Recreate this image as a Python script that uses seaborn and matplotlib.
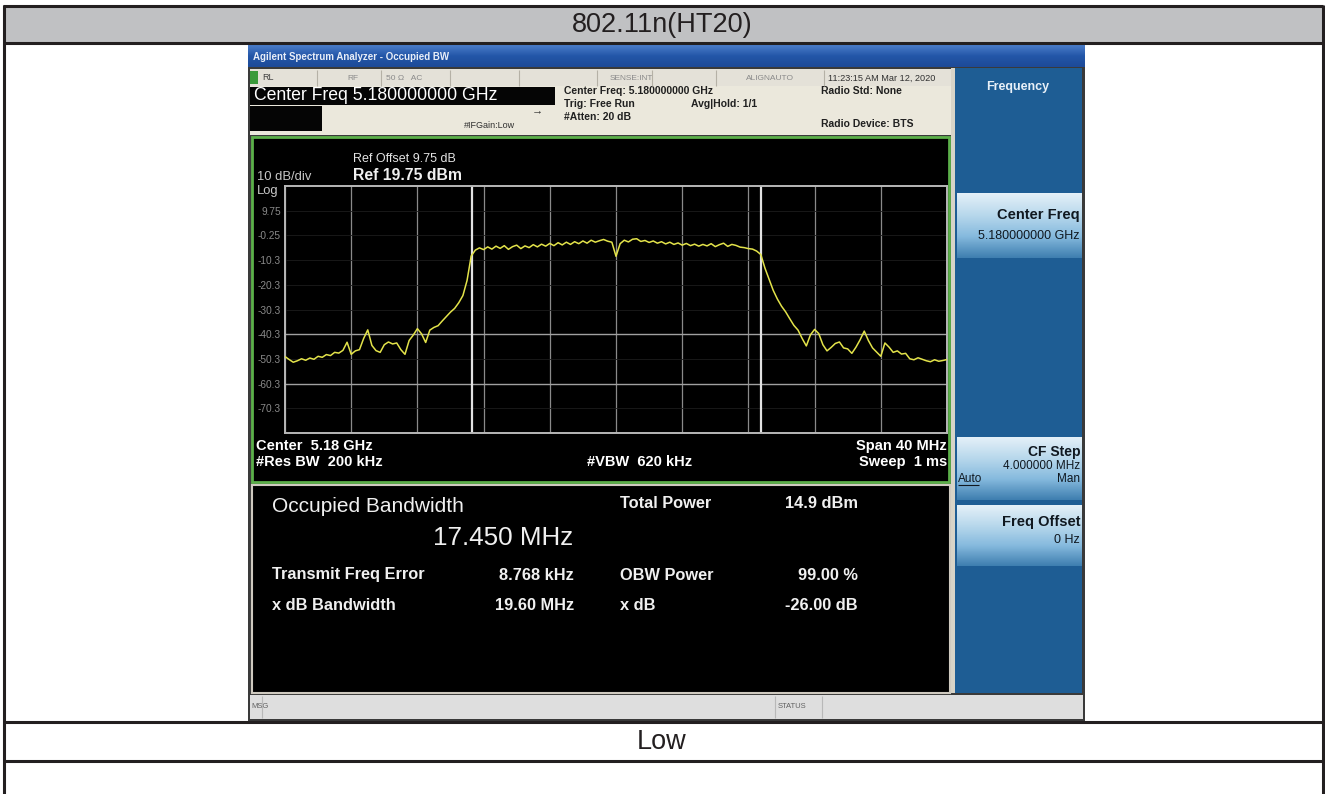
import numpy as np
import pandas as pd
import matplotlib
matplotlib.use('Agg')
import matplotlib.pyplot as plt
from matplotlib.patches import Rectangle
from matplotlib.colors import LinearSegmentedColormap
import seaborn as sns

W, H = 1325, 794

# analyser sweep, 0.25 MHz steps over the 40 MHz span (offset from 5.18 GHz)
FREQ_START, FREQ_STOP, FREQ_STEP = -20.0, 20.0, 0.25
LEVEL_DBM = [
    # -20 .. -16.5
    -49.3, -50.5, -51.6, -51.0, -50.2, -50.8, -49.9, -50.4, -49.2, -49.6,
    -48.5, -48.9, -47.6, -47.9, -46.8,
    # -16.25 .. -8.75
    -43.5, -48.4, -47.0, -46.5, -42.0, -38.5, -44.8, -46.9, -47.6, -44.5,
    -43.4, -44.2, -43.8, -46.5, -48.4, -42.8, -40.6, -38.0, -40.1, -43.6,
    -38.6, -37.5, -36.8, -34.9, -33.1, -31.3, -29.8, -27.5, -24.6, -18.5,
    -8.6,
    # -8.5 .. 8.5 (in band)
    -6.2, -5.3, -6.0, -4.9, -5.8, -4.6, -5.5, -4.4, -5.9, -4.8,
    -4.2, -5.6, -4.5, -5.2, -4.0, -4.9, -3.8, -4.6, -3.5, -4.4,
    -3.2, -4.1, -3.0, -3.9, -2.8, -3.6, -2.5, -3.4, -2.2, -3.0,
    -2.4, -1.9, -2.6, -3.0, -8.7, -3.6, -2.2, -2.9, -1.8, -1.6,
    -2.7, -2.3, -3.1, -2.5, -3.4, -2.8, -3.7, -3.0, -3.9, -3.3,
    -4.2, -3.5, -4.4, -3.8, -4.6, -3.9, -4.5, -3.6, -4.8, -4.0,
    -3.4, -4.7, -3.9, -4.3, -5.0, -5.2, -5.6, -5.8, -6.6,
    # 8.75 .. 20
    -8.0, -13.5, -18.0, -22.5, -26.0, -28.9, -31.2, -34.0, -36.7, -38.6,
    -42.0, -45.0, -40.5, -38.3, -40.0, -44.5, -47.0, -45.6, -44.0, -43.4,
    -45.8, -46.2, -48.0, -45.5, -42.5, -39.0, -42.8, -45.8, -47.5, -49.2,
    -43.8, -45.5, -47.6, -47.0, -48.3, -48.0, -50.2, -50.6, -49.8, -50.4,
    -51.0, -51.4, -50.6, -51.2, -50.9, -50.5,
]

REF_LEVEL = 19.75
DB_PER_DIV = 10
OBW_MHZ = 17.450
FREQ_ERR_KHZ = 8.768
Y_TICK_LABELS = ['9.75', '-0.25', '-10.3', '-20.3', '-30.3', '-40.3', '-50.3', '-60.3', '-70.3']

RESULT_LABELS = ['Transmit Freq Error', 'x dB Bandwidth']
RESULT_VALUES = ['8.768 kHz', '19.60 MHz']
RESULT_LABELS_R = ['Total Power', 'OBW Power', 'x dB']
RESULT_VALUES_R = ['14.9 dBm', '99.00 %', '-26.00 dB']

plt.rcParams['font.family'] = ['Liberation Sans', 'DejaVu Sans']

fig = plt.figure(figsize=(W / 100, H / 100), dpi=100)
bg = fig.add_axes([0, 0, 1, 1])
bg.set_xlim(0, W)
bg.set_ylim(H, 0)
bg.axis('off')


def box(x0, y0, x1, y1, color, ec='none', lw=0, z=1):
    bg.add_patch(Rectangle((x0, y0), x1 - x0, y1 - y0, facecolor=color,
                           edgecolor=ec, linewidth=lw, zorder=z))


def grad(x0, y0, x1, y1, colors, z=1):
    cmap = LinearSegmentedColormap.from_list('g', colors)
    bg.imshow(np.linspace(0, 1, 64).reshape(-1, 1), cmap=cmap, extent=(x0, x1, y1, y0),
              aspect='auto', origin='upper', interpolation='bilinear', zorder=z)


def txt(x, y, s, size, color='white', ha='left', weight='normal', z=5):
    bg.text(x, y, s, fontsize=size, color=color, ha=ha, va='center', fontweight=weight, zorder=z)


def hline(x0, x1, y, color='#231f20', lw=2.2, z=6):
    bg.plot([x0, x1], [y, y], color=color, lw=lw, zorder=z, solid_capstyle='butt')


def vline(x, y0, y1, color='#231f20', lw=2.2, z=6):
    bg.plot([x, x], [y0, y1], color=color, lw=lw, zorder=z, solid_capstyle='butt')


# ---- outer table ----
box(4, 7, 1322, 42, '#c0c1c3')
txt(662, 25, '802.11n(HT20)', 19.5, color='#231f20', ha='center')
txt(662, 742, 'Low', 19.5, color='#231f20', ha='center')
for yy in [6, 43, 722, 761]:
    hline(3, 1323, yy)
vline(3.5, 5, H)
vline(1322.5, 5, H)

# ---- analyser screenshot ----
box(248, 45, 1085, 721, '#3a3a3a')
grad(248, 45, 1085, 67, ['#4a7cc8', '#2356a8', '#1d4a98'])
txt(253, 57, 'Agilent Spectrum Analyzer - Occupied BW', 7, color='#e8eef8', weight='bold')

# status row
box(250, 69, 952, 86, '#e4e1d8')
box(250, 71, 258, 84, '#3a9a3a', z=2)
for xs in [317, 381, 450, 519, 597, 652, 716, 824]:
    vline(xs, 70, 86, color='#b5b1a6', lw=0.8)
txt(262, 78, 'RL', 6.5, color='#404040')
txt(347, 78, 'RF', 6, color='#8a8a8a')
txt(386, 78, '50 Ω   AC', 6, color='#8a8a8a')
txt(610, 78, 'SENSE:INT', 6, color='#8a8a8a')
txt(746, 78, 'ALIGNAUTO', 6, color='#8a8a8a')
txt(828, 78, '11:23:15 AM Mar 12, 2020', 6.6, color='#303030')

# info area
box(250, 86, 952, 135, '#ebe8dc')
box(250, 87, 555, 105, '#050505', z=2)
box(250, 106, 322, 131, '#050505', z=2)
txt(254, 96, 'Center Freq 5.180000000 GHz', 12.7, color='white')
txt(464, 125, '#IFGain:Low', 6.5, color='#303030')
txt(532, 110, '→', 8, color='#303030')
txt(564, 91, 'Center Freq: 5.180000000 GHz', 7.5, color='#202020', weight='bold')
txt(564, 104, 'Trig: Free Run', 7.5, color='#202020', weight='bold')
txt(691, 104, 'Avg|Hold: 1/1', 7.5, color='#202020', weight='bold')
txt(564, 117, '#Atten: 20 dB', 7.5, color='#202020', weight='bold')
txt(821, 91, 'Radio Std: None', 7.5, color='#202020', weight='bold')
txt(821, 124, 'Radio Device: BTS', 7.5, color='#202020', weight='bold')

# graph frame
box(252, 137, 949, 482, '#000000', ec='#5cb04a', lw=2, z=2)
txt(353, 159, 'Ref Offset 9.75 dB', 9, color='#e4e4e4')
txt(353, 175, 'Ref 19.75 dBm', 11.3, color='#f0f0f0', weight='bold')
txt(257, 177, '10 dB/div', 9.4, color='#c8c8c8')
txt(257, 191, 'Log', 9.4, color='#c8c8c8')
txt(256, 446, 'Center  5.18 GHz', 10.5, color='white', weight='bold')
txt(256, 462, '#Res BW  200 kHz', 10.5, color='white', weight='bold')
txt(587, 462, '#VBW  620 kHz', 10.5, color='white', weight='bold')
txt(947, 446, 'Span 40 MHz', 10.5, color='white', weight='bold', ha='right')
txt(947, 462, 'Sweep  1 ms', 10.5, color='white', weight='bold', ha='right')

# results area
box(252, 485, 950, 693, '#000000', ec='#cfcac0', lw=1.5, z=2)
txt(272, 506, 'Occupied Bandwidth', 15, color='#f0f0f0')
txt(433, 538, '17.450 MHz', 18.7, color='#f0f0f0')
txt(620, 503, RESULT_LABELS_R[0], 11.8, color='#f0f0f0', weight='bold')
txt(858, 503, RESULT_VALUES_R[0], 11.8, color='#f0f0f0', weight='bold', ha='right')
for yy, lab, val, lab_r, val_r in zip([575, 605], RESULT_LABELS, RESULT_VALUES,
                                       RESULT_LABELS_R[1:], RESULT_VALUES_R[1:]):
    txt(272, yy, lab, 11.8, color='#f0f0f0', weight='bold')
    txt(574, yy, val, 11.8, color='#f0f0f0', weight='bold', ha='right')
    txt(620, yy, lab_r, 11.8, color='#f0f0f0', weight='bold')
    txt(858, yy, val_r, 11.8, color='#f0f0f0', weight='bold', ha='right')

# softkey panel
box(951, 68, 955, 693, '#d8d4c8')
box(955, 68, 1082, 693, '#1e5d94')
txt(1018, 87, 'Frequency', 9, color='#e8f0f8', weight='bold', ha='center')
btn_colors = ['#e4f0f8', '#b8d8ec', '#86bade', '#3f7fb0']
for y0, y1 in [(193, 258), (437, 500), (505, 566)]:
    grad(957, y0, 1082, y1, btn_colors, z=2)
txt(1080, 215, 'Center Freq', 10.5, color='#101820', weight='bold', ha='right')
txt(1080, 236, '5.180000000 GHz', 9, color='#101820', ha='right')
txt(1080, 452, 'CF Step', 10, color='#101820', weight='bold', ha='right')
txt(1080, 466, '4.000000 MHz', 8.5, color='#101820', ha='right')
txt(958, 479, 'Auto', 8.5, color='#101820')
hline(958, 979, 485, color='#101820', lw=0.8)
txt(1080, 479, 'Man', 8.5, color='#101820', ha='right')
txt(1080, 522, 'Freq Offset', 10.5, color='#101820', weight='bold', ha='right')
txt(1080, 540, '0 Hz', 9, color='#101820', ha='right')

# message bar
box(250, 695, 1083, 719, '#dedede')
for xs in [262, 775, 822]:
    vline(xs, 696, 718, color='#b8b8b8', lw=0.8)
txt(251, 707, 'MSG', 5.5, color='#606060')
txt(778, 707, 'STATUS', 5.5, color='#606060')

bg.set_xlim(0, W)
bg.set_ylim(H, 0)

# ---- spectrum trace ----
freq = np.arange(FREQ_START, FREQ_STOP + FREQ_STEP / 2, FREQ_STEP)
df = pd.DataFrame({'freq': freq, 'level': LEVEL_DBM})

ax = fig.add_axes([285 / W, 1 - 433 / H, 662 / W, 247 / H])
ax.set_facecolor('black')
bottom = REF_LEVEL - 10 * DB_PER_DIV
div_levels = [REF_LEVEL - DB_PER_DIV * k for k in range(1, 10)]
for k, lv in enumerate(div_levels, start=1):
    bright = k in (6, 8)
    ax.axhline(lv, color='#a0a0a0' if bright else '#1c1c1c', lw=1.0 if bright else 0.6, zorder=1)
ax.set_xticks(np.arange(FREQ_START, FREQ_STOP + 1, 4))
ax.grid(axis='x', color='#8a8a8a', lw=0.9)
ax.set_axisbelow(True)

center = FREQ_ERR_KHZ / 1000
for edge in (center - OBW_MHZ / 2, center + OBW_MHZ / 2):
    ax.axvline(edge, color='#e2e2e2', lw=1.6, zorder=2)

sns.lineplot(data=df, x='freq', y='level', color='#e3e34a', lw=1.1, ax=ax, zorder=3)

ax.set_xlim(FREQ_START, FREQ_STOP)
ax.set_ylim(bottom, REF_LEVEL)
ax.set_yticks(div_levels)
ax.set_yticklabels(Y_TICK_LABELS)
ax.tick_params(axis='y', length=0, colors='#8a8a8a', labelsize=7.3, pad=3)
ax.tick_params(axis='x', length=0, labelbottom=False)
ax.set_xlabel('')
ax.set_ylabel('')
for sp in ax.spines.values():
    sp.set_color('#b8b8b8')
    sp.set_linewidth(1.4)

fig.savefig('out.png', dpi=100)
